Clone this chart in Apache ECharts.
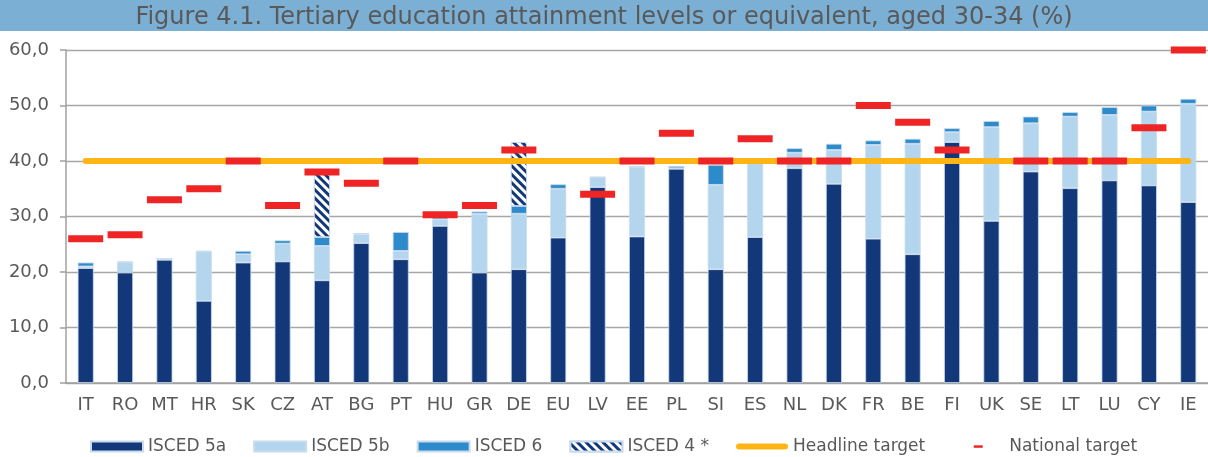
<!DOCTYPE html>
<html>
<head>
<meta charset="utf-8">
<script src="https://cdn.jsdelivr.net/npm/echarts@6/dist/echarts.min.js"></script>
<style>
  html, body { margin: 0; padding: 0; background: #fff; }
  #chart { width: 1208px; height: 457px; }
</style>
</head>
<body>
<div id="chart"></div>
<script>
// categories
var countries = ['IT', 'RO', 'MT', 'HR', 'SK', 'CZ', 'AT', 'BG', 'PT', 'HU', 'GR', 'DE', 'EU', 'LV', 'EE',
  'PL', 'SI', 'ES', 'NL', 'DK', 'FR', 'BE', 'FI', 'UK', 'SE', 'LT', 'LU', 'CY', 'IE'];

// values (%)
var isced5a = [20.7, 19.9, 22.2, 14.8, 21.7, 21.9, 18.5, 25.2, 22.3, 28.3, 19.9, 20.5, 26.2, 35.3, 26.4,
  38.6, 20.5, 26.3, 38.7, 35.9, 26.0, 23.2, 43.4, 29.2, 38.1, 35.1, 36.5, 35.6, 32.6];
var isced5b = [0.3, 1.8, 0.2, 8.9, 1.5, 3.2, 6.2, 1.6, 1.5, 1.2, 10.6, 10.0, 8.8, 1.8, 12.5,
  0.1, 15.2, 13.7, 2.8, 6.1, 16.9, 19.9, 1.8, 16.9, 8.7, 12.9, 11.8, 13.3, 17.7];
var isced6 = [0.7, 0.2, 0, 0.1, 0.6, 0.6, 1.6, 0.2, 3.4, 0.4, 0.4, 1.4, 0.8, 0, 0.2,
  0.4, 3.6, 0, 0.8, 1.1, 0.8, 0.9, 0.7, 1.1, 1.2, 0.8, 1.4, 1.1, 0.9];
var isced4 = ['-', '-', '-', '-', '-', '-', 11.4, '-', '-', '-', '-', 11.5, '-', '-', '-',
  '-', '-', '-', '-', '-', '-', '-', '-', '-', '-', '-', '-', '-', '-'];
var headline = [40, 40, 40, 40, 40, 40, 40, 40, 40, 40, 40, 40, 40, 40, 40,
  40, 40, 40, 40, 40, 40, 40, 40, 40, 40, 40, 40, 40, 40];
var national = [26, 26.7, 33, 35, 40, 32, 38, 36, 40, 30.3, 32, 42, '-', 34, 40,
  45, 40, 44, 40, 40, 50, 47, 42, '-', 40, 40, 40, 46, 60];

var yTicks = { min: 0, max: 60, step: 10 };

var titleText = 'Figure 4.1. Tertiary education attainment levels or equivalent, aged 30-34 (%)';

var grey = '#595959';
var font = 'DejaVu Sans';

var chart = echarts.init(document.getElementById('chart'));

var barBorder = { borderColor: '#c9dcee', borderWidth: 0.8 };

var option = {
  animation: false,
  graphic: [
    {
      type: 'rect',
      left: 0, top: 0,
      shape: { width: 1208, height: 31 },
      style: { fill: '#7BAFD4' },
      z: -1
    }
  ],
  title: {
    text: titleText,
    left: 'center',
    top: 6,
    padding: 0,
    textStyle: { fontFamily: font, fontSize: 24, fontWeight: 'normal', color: grey }
  },
  grid: { left: 66, right: 0, top: 50, bottom: 74 },
  legend: {
    left: 90,
    top: 438,
    padding: 0,
    itemWidth: 52,
    itemHeight: 10,
    itemGap: 27,
    textStyle: { fontFamily: font, fontSize: 17, color: grey },
    data: [
      { name: 'ISCED 5a', icon: 'rect' },
      { name: 'ISCED 5b', icon: 'rect' },
      { name: 'ISCED 6', icon: 'rect' },
      { name: 'ISCED 4 *', icon: 'rect' },
      { name: 'Headline target', icon: 'path://M0,0 M52,10 M3,2 L49,2 A3,3 0 0 1 49,8 L3,8 A3,3 0 0 1 3,2 Z' },
      { name: 'National target', icon: 'path://M0,0 M52,10 M21.5,3.8 L30.5,3.8 L30.5,6.3 L21.5,6.3 Z' }
    ]
  },
  xAxis: {
    type: 'category',
    data: countries,
    axisLine: { lineStyle: { color: '#A0A0A0', width: 1.5 } },
    axisTick: { length: 6, lineStyle: { color: '#A0A0A0', width: 1.5 } },
    axisLabel: { interval: 0, margin: 13, fontFamily: font, fontSize: 18, color: grey }
  },
  yAxis: {
    type: 'value',
    min: yTicks.min,
    max: yTicks.max,
    interval: yTicks.step,
    axisLine: { show: true, lineStyle: { color: '#A0A0A0', width: 1.5 } },
    axisTick: { show: true, length: 6, lineStyle: { color: '#A0A0A0', width: 1.5 } },
    splitLine: { lineStyle: { color: '#A6A6A6', width: 1.3 } },
    axisLabel: {
      margin: 17, fontFamily: font, fontSize: 18, color: grey,
      formatter: function (v) { return v.toFixed(1).replace('.', ','); }
    }
  },
  series: [
    {
      name: 'ISCED 5a', type: 'bar', stack: 'tot', barWidth: 16, data: isced5a,
      itemStyle: Object.assign({ color: '#12387A' }, barBorder)
    },
    {
      name: 'ISCED 5b', type: 'bar', stack: 'tot', barWidth: 16, data: isced5b,
      itemStyle: Object.assign({ color: '#B3D5EE' }, barBorder)
    },
    {
      name: 'ISCED 6', type: 'bar', stack: 'tot', barWidth: 16, data: isced6,
      itemStyle: Object.assign({ color: '#2E8BCB' }, barBorder)
    },
    {
      name: 'ISCED 4 *', type: 'bar', stack: 'tot', barWidth: 16, data: isced4,
      itemStyle: {
        color: '#ffffff',
        borderColor: '#c9dcee',
        borderWidth: 0.8,
        decal: {
          symbol: 'rect',
          symbolSize: 1,
          color: '#12387A',
          backgroundColor: '#ffffff',
          dashArrayX: [1, 0],
          dashArrayY: [2.5, 2.5],
          rotation: Math.PI / 4
        }
      }
    },
    {
      name: 'Headline target', type: 'line', data: headline,
      showSymbol: false, symbol: 'none',
      lineStyle: { color: '#FDB515', width: 6, cap: 'round', opacity: 1 },
      emphasis: { disabled: true },
      itemStyle: { color: '#FDB515' },
      z: 3
    },
    {
      name: 'National target', type: 'scatter', data: national,
      symbol: 'rect', symbolSize: [35, 7],
      itemStyle: { color: '#EE2524', opacity: 1 },
      z: 4
    }
  ]
};

chart.setOption(option);
</script>
</body>
</html>
